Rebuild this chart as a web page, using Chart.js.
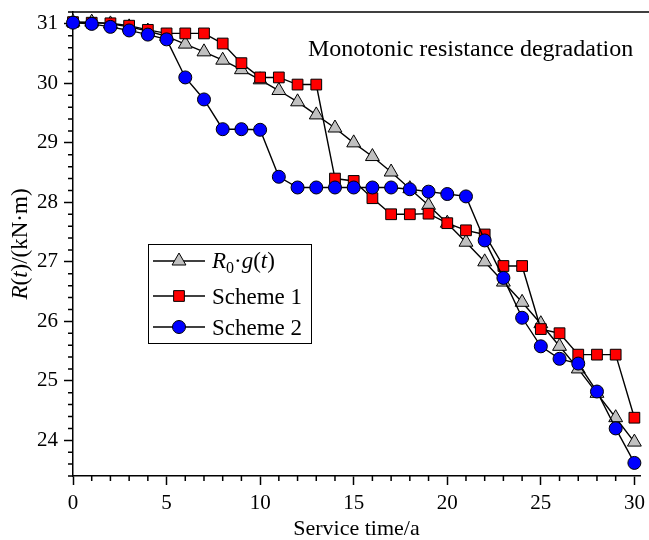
<!DOCTYPE html>
<html>
<head>
<meta charset="utf-8">
<script src="https://cdn.jsdelivr.net/npm/chart.js@4.4.1/dist/chart.umd.min.js"></script>
<style>
  html, body { margin: 0; padding: 0; background: #fff; }
  canvas { display: block; }
</style>
</head>
<body>
<canvas id="chart" width="649" height="540"></canvas>
<script>
var years = [0, 1, 2, 3, 4, 5, 6, 7, 8, 9, 10, 11, 12, 13, 14, 15,
             16, 17, 18, 19, 20, 21, 22, 23, 24, 25, 26, 27, 28, 29, 30];

// R0*g(t), kN*m
var r0g = [31.03, 31.03, 31.00, 30.95, 30.88, 30.79, 30.66, 30.53, 30.39, 30.23, 30.06,
           29.88, 29.69, 29.47, 29.25, 29.00, 28.77, 28.51, 28.23, 27.95, 27.65,
           27.33, 27.00, 26.66, 26.32, 25.96, 25.58, 25.20, 24.79, 24.38, 23.97];

var scheme1 = [31.03, 31.02, 31.01, 30.97, 30.90, 30.84, 30.84, 30.84, 30.67, 30.34, 30.10,
               30.10, 29.98, 29.98, 28.40, 28.36, 28.07, 27.80, 27.80, 27.81, 27.65,
               27.53, 27.46, 26.93, 26.93, 25.87, 25.80, 25.44, 25.44, 25.44, 24.38];

var scheme2 = [31.02, 31.00, 30.95, 30.89, 30.82, 30.74, 30.10, 29.73, 29.23, 29.23, 29.22,
               28.43, 28.25, 28.25, 28.25, 28.25, 28.25, 28.25, 28.22, 28.18, 28.14,
               28.10, 27.36, 26.73, 26.06, 25.58, 25.37, 25.29, 24.82, 24.20, 23.62];

var xTicks = [0, 5, 10, 15, 20, 25, 30];
var yTicks = [24, 25, 26, 27, 28, 29, 30, 31];

var noteText = 'Monotonic resistance degradation';
var xTitle = 'Service time/a';
var schemeNames = ['Scheme 1', 'Scheme 2'];

var SERIF = '"Liberation Serif", "Times New Roman", serif';

function pts(arr) {
    return years.map(function (t, i) {
        return {x: t, y: arr[i]};
    });
}

// draws a run of text pieces [text, italic, size, dy] left to right
function drawRuns(ctx, runs, x, y) {
    runs.forEach(function (r) {
        ctx.font = (r[1] ? 'italic ' : '') + r[2] + 'px ' + SERIF;
        ctx.fillText(r[0], x, y + (r[3] || 0));
        x += ctx.measureText(r[0]).width;
    });
}

function runsWidth(ctx, runs) {
    return runs.reduce(function (w, r) {
        ctx.font = (r[1] ? 'italic ' : '') + r[2] + 'px ' + SERIF;
        return w + ctx.measureText(r[0]).width;
    }, 0);
}

var decorations = {
    id: 'decorations',
    afterDraw: function (chart) {
        var ctx = chart.ctx, a = chart.chartArea;
        var xs = chart.scales.x, ys = chart.scales.y;
        var i, p;
        ctx.save();
        ctx.strokeStyle = '#000';
        ctx.fillStyle = '#000';

        // top frame line
        ctx.lineWidth = 1.5;
        ctx.beginPath();
        ctx.moveTo(a.left - 0.75, a.top);
        ctx.lineTo(chart.width, a.top);
        ctx.stroke();

        // minor ticks
        ctx.beginPath();
        for (i = 1; i < 31; i++) {
            if (i % 5 === 0) continue;
            p = xs.getPixelForValue(i);
            ctx.moveTo(p, a.bottom);
            ctx.lineTo(p, a.bottom + 5);
        }
        for (i = 117; i <= 156; i++) {
            if (i % 5 === 0) continue;
            p = ys.getPixelForValue(i / 5);
            ctx.moveTo(a.left, p);
            ctx.lineTo(a.left - 5, p);
        }
        ctx.stroke();

        // axis titles
        ctx.textBaseline = 'alphabetic';
        ctx.font = '22px ' + SERIF;
        ctx.textAlign = 'center';
        ctx.fillText(xTitle, (a.left + a.right) / 2, 535);
        ctx.textAlign = 'left';

        var yRuns = [['R', true, 23], ['(', false, 23], ['t', true, 23], [')/(kN\u00b7m)', false, 23]];
        ctx.save();
        ctx.translate(27, (a.top + a.bottom) / 2);
        ctx.rotate(-Math.PI / 2);
        drawRuns(ctx, yRuns, -runsWidth(ctx, yRuns) / 2, 0);
        ctx.restore();

        // note
        ctx.font = '24px ' + SERIF;
        ctx.fillText(noteText, 308, 56);

        // legend
        var bx = 148.5, by = 244.5, bw = 163, bh = 99;
        ctx.fillStyle = '#fff';
        ctx.fillRect(bx, by, bw, bh);
        ctx.lineWidth = 1;
        ctx.strokeRect(bx, by, bw, bh);
        var rows = [261, 296, 327];
        chart.data.datasets.forEach(function (ds, k) {
            var y = rows[k];
            ctx.lineWidth = 1.3;
            ctx.strokeStyle = '#000';
            ctx.beginPath();
            ctx.moveTo(153, y);
            ctx.lineTo(205, y);
            ctx.stroke();
            ctx.fillStyle = ds.pointBackgroundColor;
            ctx.lineWidth = 1;
            Chart.helpers.drawPoint(ctx, {
                pointStyle: ds.pointStyle, radius: ds.pointRadius,
                rotation: 0, borderWidth: 1
            }, 179, y);
            ctx.fillStyle = '#000';
        });
        drawRuns(ctx, [['R', true, 23], ['0', false, 16, 5], ['\u00b7', false, 23], ['g', true, 23],
                       ['(', false, 23], ['t', true, 23], [')', false, 23]], 212, rows[0] + 7);
        ctx.font = '23px ' + SERIF;
        ctx.fillText(schemeNames[0], 212, rows[1] + 8);
        ctx.fillText(schemeNames[1], 212, rows[2] + 8);
        ctx.restore();
    }
};

var axisFont = {family: SERIF, size: 21};

new Chart(document.getElementById('chart'), {
    type: 'line',
    data: {
        datasets: [{
            label: 'R0·g(t)',
            data: pts(r0g),
            borderColor: '#000',
            borderWidth: 1.4,
            pointStyle: 'triangle',
            pointRadius: 8,
            pointBackgroundColor: '#c0c0c0',
            pointBorderWidth: 1,
            clip: false,
            order: 3
        }, {
            label: schemeNames[0],
            data: pts(scheme1),
            borderColor: '#000',
            borderWidth: 1.4,
            pointStyle: 'rect',
            pointRadius: 7.6,
            pointBackgroundColor: '#ff0000',
            pointBorderWidth: 1,
            clip: false,
            order: 2
        }, {
            label: schemeNames[1],
            data: pts(scheme2),
            borderColor: '#000',
            borderWidth: 1.4,
            pointStyle: 'circle',
            pointRadius: 6.5,
            pointBackgroundColor: '#0000ff',
            pointBorderWidth: 1,
            clip: false,
            order: 1
        }]
    },
    options: {
        responsive: false,
        animation: false,
        layout: {padding: {top: 12, right: 3, left: 0, bottom: 0}},
        plugins: {legend: {display: false}, tooltip: {enabled: false}},
        scales: {
            x: {
                type: 'linear',
                min: 0,
                max: 30.3,
                afterBuildTicks: function (s) {
                    s.ticks = xTicks.map(function (v) { return {value: v}; });
                },
                afterFit: function (s) {
                    s.height = 64;
                    s.paddingLeft = 0;
                    s.paddingRight = 0;
                },
                grid: {drawOnChartArea: false, tickLength: 9, tickWidth: 1.5, tickColor: '#000'},
                border: {color: '#000', width: 1.5},
                ticks: {color: '#000', font: axisFont, padding: 6, maxRotation: 0}
            },
            y: {
                min: 23.4,
                max: 31.2,
                afterBuildTicks: function (s) {
                    s.ticks = yTicks.map(function (v) { return {value: v}; });
                },
                afterFit: function (s) {
                    s.width = 73;
                    s.paddingTop = 0;
                    s.paddingBottom = 0;
                },
                grid: {drawOnChartArea: false, tickLength: 9, tickWidth: 1.5, tickColor: '#000'},
                border: {color: '#000', width: 1.5},
                ticks: {color: '#000', font: axisFont, padding: 6}
            }
        }
    },
    plugins: [decorations]
});
</script>
</body>
</html>
